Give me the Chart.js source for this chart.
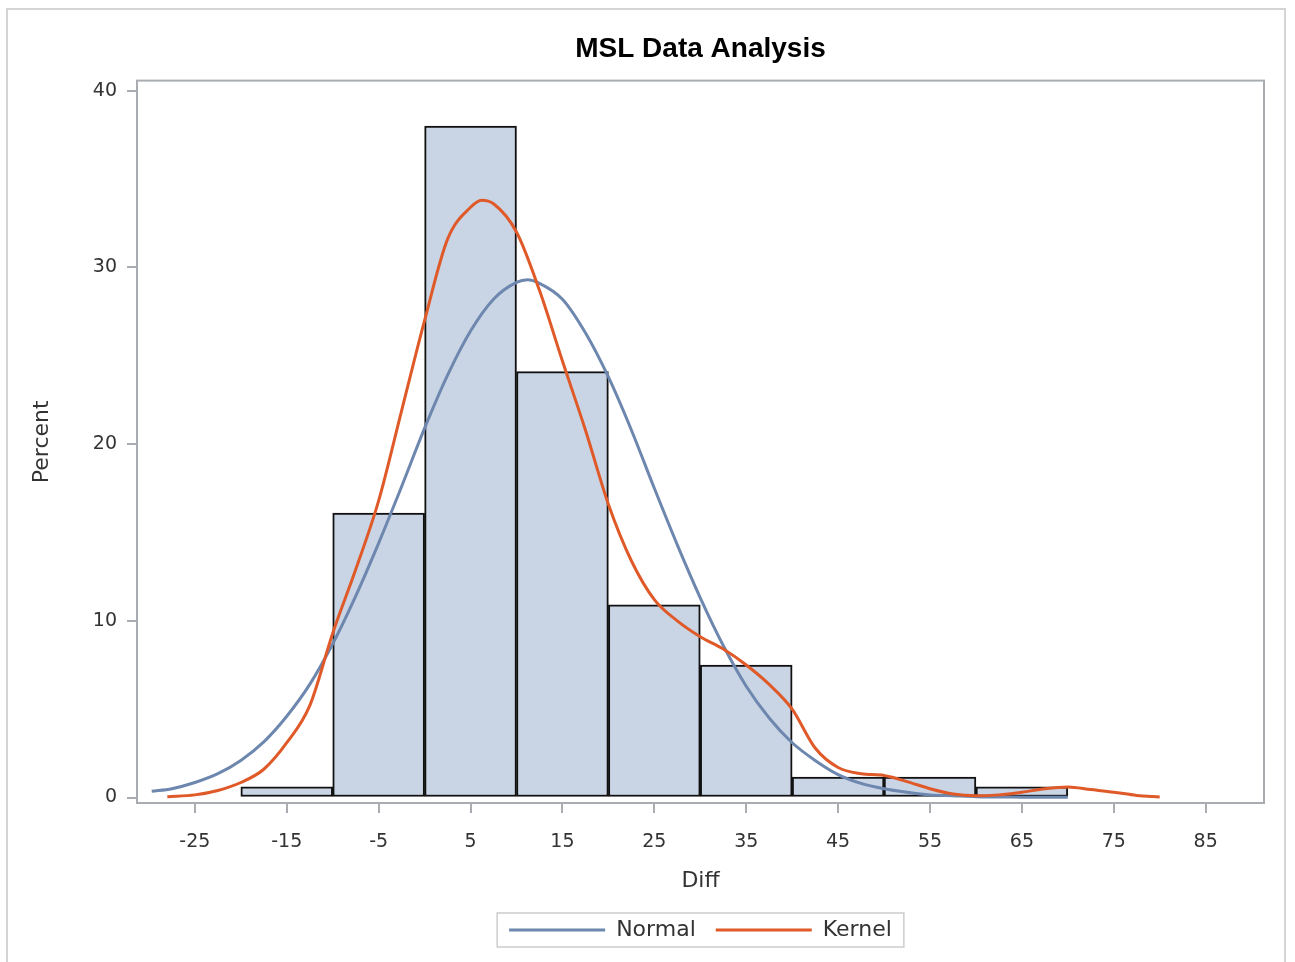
<!DOCTYPE html>
<html>
<head>
<meta charset="utf-8">
<title>MSL Data Analysis</title>
<script src="https://cdn.jsdelivr.net/npm/chart.js@4.4.1/dist/chart.umd.min.js"></script>
<style>
  html, body { margin: 0; padding: 0; background: #fff; }
  #wrap { width: 1295px; height: 962px; position: relative; }
</style>
</head>
<body>
<div id="wrap"><canvas id="myChart"></canvas></div>
<script>
// histogram bins (center of each 10-wide bin) and percent
var binCenters = [-15, -5, 5, 15, 25, 35, 45, 55, 65];
var binPercent = [0.6, 16.1, 38.0, 24.1, 10.9, 7.5, 1.15, 1.15, 0.6];

// fitted normal curve
var normalX = [-29.7, -27.5, -25, -22.5, -20, -17.5, -15, -12.5, -10, -7.5, -5, -2.5, 0, 2.5, 5, 7.5, 10, 11.2, 12.5, 15, 17.5, 20, 22.5, 25, 27.5, 30, 32.5, 35, 37.5, 40, 42.5, 45, 47.5, 50, 52.5, 55, 57.5, 60, 65, 70];
var normalY = [0.35, 0.5, 0.85, 1.35, 2.1, 3.15, 4.6, 6.4, 8.7, 11.4, 14.4, 17.6, 20.9, 23.9, 26.4, 28.2, 29.15, 29.3, 29.1, 28.2, 26.3, 23.8, 20.8, 17.5, 14.3, 11.3, 8.6, 6.3, 4.5, 3.1, 2.1, 1.3, 0.8, 0.5, 0.3, 0.15, 0.1, 0.05, 0.02, 0.01];

// kernel density curve
var kernelX = [-28, -25, -22.5, -20, -17.5, -15, -12.5, -10, -7.5, -5, -2.5, 0, 2.5, 5, 6.2, 7.5, 10, 12.5, 15, 17.5, 20, 22.5, 25, 27.5, 30, 32.5, 35, 37.5, 40, 42.5, 45, 47.5, 50, 52.5, 55, 57.5, 60, 62.5, 65, 67.5, 70, 72.5, 75, 77.5, 80];
var kernelY = [0.05, 0.15, 0.4, 0.85, 1.6, 3.1, 5.2, 9.3, 12.9, 16.8, 21.9, 27.0, 31.6, 33.4, 33.8, 33.6, 32.0, 28.7, 24.7, 20.8, 16.6, 13.4, 11.2, 10.0, 9.1, 8.4, 7.5, 6.4, 5.0, 2.8, 1.7, 1.35, 1.25, 0.9, 0.5, 0.2, 0.1, 0.15, 0.3, 0.5, 0.6, 0.45, 0.3, 0.12, 0.03];

// axis ticks
var xTicks = [-25, -15, -5, 5, 15, 25, 35, 45, 55, 65, 75, 85];
var yTicks = [0, 10, 20, 30, 40];

function toPoints(xs, ys) {
  var pts = [];
  for (var i = 0; i < xs.length; i++) {
    pts.push({ x: xs[i], y: ys[i] });
  }
  return pts;
}

var axisGray = '#A9ADB1';

// frames: outer border, plot border, legend box
var framePlugin = {
  id: 'frames',
  beforeDraw: function (chart) {
    var ctx = chart.ctx;
    ctx.save();
    ctx.strokeStyle = '#D4D4D4';
    ctx.lineWidth = 2;
    ctx.strokeRect(7, 9, 1278, 980);
    ctx.restore();
  },
  afterDraw: function (chart) {
    var ctx = chart.ctx;
    var a = chart.chartArea;
    ctx.save();
    ctx.strokeStyle = axisGray;
    ctx.lineWidth = 2;
    ctx.strokeRect(a.left, a.top, a.right - a.left, a.bottom - a.top);

    var boxes = chart.legend.legendHitBoxes;
    if (boxes && boxes.length) {
      var first = boxes[0];
      var last = boxes[boxes.length - 1];
      var cy = first.top + first.height / 2;
      var left = first.left - 12;
      var right = last.left + last.width + 12;
      ctx.strokeStyle = '#CCCCCC';
      ctx.lineWidth = 1.5;
      ctx.strokeRect(left, cy - 17, right - left, 34);
    }
    ctx.restore();
  }
};

Chart.defaults.font.family = 'DejaVu Sans';
Chart.defaults.color = '#333';

var ctx = document.getElementById('myChart').getContext('2d');
var chart = new Chart(ctx, {
  type: 'bar',
  data: {
    datasets: [{
      type: 'bar',
      label: 'Histogram',
      data: toPoints(binCenters, binPercent),
      backgroundColor: '#C9D4E5',
      borderColor: '#111111',
      borderWidth: 2,
      borderSkipped: false,
      barPercentage: 1.0,
      categoryPercentage: 1.0,
      order: 3
    }, {
      type: 'line',
      label: 'Normal',
      data: toPoints(normalX, normalY),
      borderColor: '#6D87AE',
      backgroundColor: '#6D87AE',
      borderWidth: 3,
      pointRadius: 0,
      fill: false,
      cubicInterpolationMode: 'monotone',
      order: 2
    }, {
      type: 'line',
      label: 'Kernel',
      data: toPoints(kernelX, kernelY),
      borderColor: '#DF5A28',
      backgroundColor: '#DF5A28',
      borderWidth: 3,
      pointRadius: 0,
      fill: false,
      cubicInterpolationMode: 'monotone',
      order: 1
    }]
  },
  options: {
    responsive: true,
    maintainAspectRatio: false,
    animation: false,
    layout: {
      padding: { left: 15, right: 31, top: 0, bottom: 11 }
    },
    plugins: {
      title: {
        display: true,
        text: 'MSL Data Analysis',
        fullSize: false,
        color: '#000',
        font: { family: 'Liberation Sans', size: 28, weight: 'bold', lineHeight: 1.2 },
        padding: { top: 32, bottom: 15 }
      },
      legend: {
        display: true,
        position: 'bottom',
        fullSize: false,
        labels: {
          boxWidth: 96,
          boxHeight: 3,
          padding: 20,
          color: '#333',
          font: { size: 22 },
          filter: function (item) {
            return item.text !== 'Histogram';
          },
          sort: function (a, b) {
            return a.datasetIndex - b.datasetIndex;
          },
          generateLabels: function (chart) {
            var items = Chart.defaults.plugins.legend.labels.generateLabels(chart);
            items.forEach(function (it) {
              it.lineWidth = 0;
              it.fillStyle = it.strokeStyle;
            });
            return items;
          }
        }
      },
      tooltip: { enabled: false }
    },
    scales: {
      x: {
        type: 'linear',
        min: -31.3,
        max: 91.35,
        offset: false,
        afterBuildTicks: function (scale) {
          scale.ticks = xTicks.map(function (v) { return { value: v }; });
        },
        afterFit: function (scale) {
          scale.height = 96;
        },
        grid: { offset: false, drawOnChartArea: false, drawTicks: true, tickLength: 10, color: axisGray, lineWidth: 2 },
        border: { display: false },
        ticks: { autoSkip: false, maxRotation: 0, padding: 18, color: '#333', font: { size: 19 } },
        title: {
          display: true,
          text: 'Diff',
          color: '#333',
          font: { size: 22 },
          padding: { top: 0, bottom: 5 }
        }
      },
      y: {
        type: 'linear',
        min: -0.31,
        max: 40.57,
        afterBuildTicks: function (scale) {
          scale.ticks = yTicks.map(function (v) { return { value: v }; });
        },
        afterFit: function (scale) {
          scale.width = 122;
        },
        grid: { drawOnChartArea: false, drawTicks: true, tickLength: 10, color: axisGray, lineWidth: 2 },
        border: { display: false },
        ticks: { padding: 10, color: '#333', font: { size: 19 } },
        title: {
          display: true,
          text: 'Percent',
          color: '#333',
          font: { size: 22 },
          padding: { top: 14, bottom: 0 }
        }
      }
    }
  },
  plugins: [framePlugin]
});
</script>
</body>
</html>
